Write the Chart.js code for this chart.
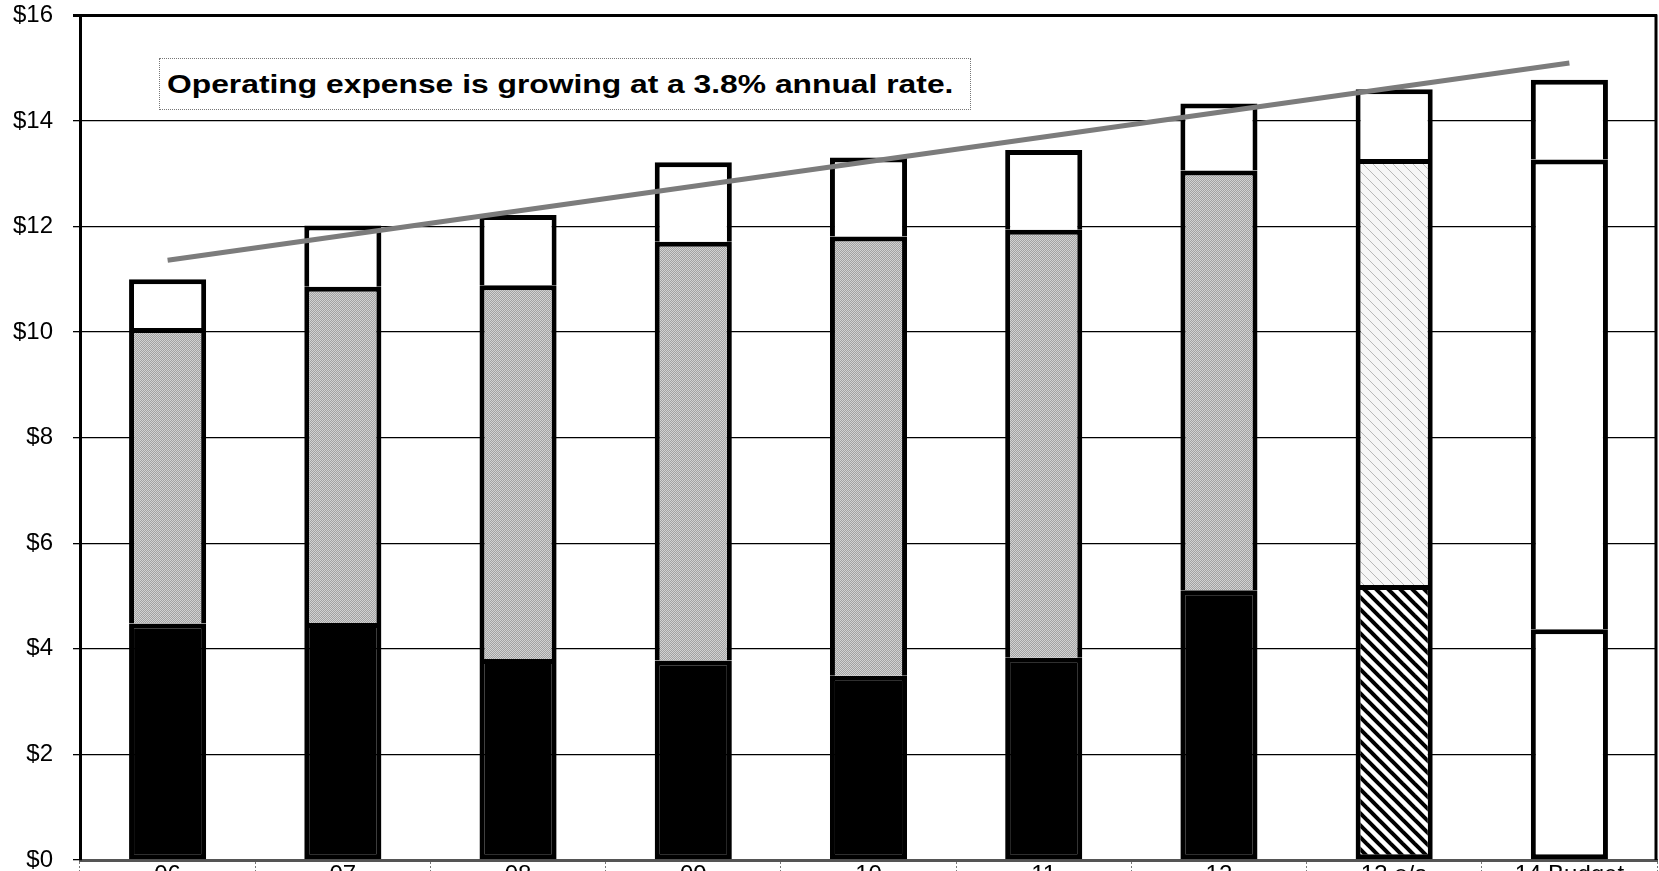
<!DOCTYPE html>
<html>
<head>
<meta charset="utf-8">
<script src="https://cdn.jsdelivr.net/npm/chart.js@4/dist/chart.umd.min.js"></script>
<style>
    html, body { margin: 0; padding: 0; background: #fff; overflow: hidden; }
    #contenedor { position: relative; width: 1659px; height: 871px; overflow: hidden; }
    #lienzo { position: absolute; left: 0; top: -19px; }
    #nota {
        position: absolute; left: 159px; top: 58px; width: 812px; height: 52px;
        border: 1px dotted #777; box-sizing: border-box; background: #fff;
        white-space: nowrap;
    }
    #nota span {
        position: absolute; left: 7px; top: 10px;
        font: bold 26.5px "Liberation Sans", Arial, sans-serif; color: #000;
        transform: scaleX(1.2); transform-origin: left center;
    }
</style>
</head>
<body>
<div id="contenedor">
    <div id="lienzo"><canvas id="grafica" width="1659" height="919"></canvas></div>
    <div id="nota"><span>Operating expense is growing at a 3.8% annual rate.</span></div>
</div>
<script>
// Datos (millones de $)
const categorias = ['06', '07', '08', '09', '10', '11', '12', '13 o/a', '14 Budget'];
const tramoInferior = [4.48, 4.49, 3.81, 3.78, 3.49, 3.83, 5.11, 5.21, 4.37];
const tramoMedio = [5.60, 6.37, 7.08, 7.93, 8.32, 8.11, 7.95, 8.07, 8.90];
const tramoSuperior = [0.92, 1.16, 1.33, 1.51, 1.50, 1.51, 1.27, 1.32, 1.51];
const tendencia = [11.36, null, null, null, null, null, null, null, 15.1];
const ticksY = [0, 2, 4, 6, 8, 10, 12, 14, 16];

// Tramas para las barras
function crearTrama(ancho, alto, dibujar) {
    const c = document.createElement('canvas');
    c.width = ancho;
    c.height = alto;
    const g = c.getContext('2d');
    dibujar(g);
    return g.createPattern(c, 'repeat');
}

const tramaGris = crearTrama(2, 2, g => {
    g.fillStyle = '#d2d2d2'; g.fillRect(0, 0, 2, 2);
    g.fillStyle = '#a2a2a2'; g.fillRect(0, 0, 1, 1); g.fillRect(1, 1, 1, 1);
});

const tramaRayada = crearTrama(12, 12, g => {
    g.fillStyle = '#fff'; g.fillRect(0, 0, 12, 12);
    g.strokeStyle = '#000'; g.lineWidth = 4;
    [-12, 0, 12].forEach(d => {
        g.beginPath(); g.moveTo(d - 2, -2); g.lineTo(d + 14, 14); g.stroke();
    });
});

const tramaClara = crearTrama(10, 10, g => {
    g.fillStyle = '#f6f6f6'; g.fillRect(0, 0, 10, 10);
    g.strokeStyle = '#b8b8b8'; g.lineWidth = 1;
    [-10, 0, 10].forEach(d => {
        g.beginPath(); g.moveTo(d - 2, -2); g.lineTo(d + 12, 12); g.stroke();
    });
});

const colorInferior = categorias.map((c, i) => i < 7 ? '#000' : (i === 7 ? tramaRayada : '#fff'));
const colorMedio = categorias.map((c, i) => i < 7 ? tramaGris : (i === 7 ? tramaClara : '#fff'));

// Borde derecho del área de trazado
const bordeDerecho = {
    id: 'bordeDerecho',
    afterDraw(chart) {
        const { ctx, chartArea } = chart;
        ctx.save();
        ctx.strokeStyle = '#000';
        ctx.lineWidth = 3;
        ctx.beginPath();
        ctx.moveTo(chartArea.right - 1, chartArea.top - 1);
        ctx.lineTo(chartArea.right - 1, chartArea.bottom);
        ctx.stroke();
        ctx.restore();
    }
};

const fuente = { family: '"Liberation Sans", Arial, sans-serif', size: 24 };

new Chart(document.getElementById('grafica').getContext('2d'), {
    data: {
        labels: categorias,
        datasets: [
            {
                type: 'line',
                data: tendencia,
                spanGaps: true,
                borderColor: '#7c7c7c',
                borderWidth: 5,
                pointRadius: 0,
                order: 0
            },
            {
                type: 'bar',
                data: tramoInferior,
                backgroundColor: colorInferior,
                borderColor: '#000',
                borderWidth: 5,
                borderSkipped: false,
                order: 1
            },
            {
                type: 'bar',
                data: tramoMedio,
                backgroundColor: colorMedio,
                borderColor: '#000',
                borderWidth: 5,
                borderSkipped: 'bottom',
                order: 1
            },
            {
                type: 'bar',
                data: tramoSuperior,
                backgroundColor: '#fff',
                borderColor: '#000',
                borderWidth: 5,
                borderSkipped: 'bottom',
                order: 1
            }
        ]
    },
    options: {
        responsive: false,
        animation: false,
        devicePixelRatio: 1,
        layout: { padding: { top: 0, right: 2, left: 0, bottom: 0 } },
        datasets: { bar: { categoryPercentage: 1, barPercentage: 0.44 } },
        plugins: { legend: { display: false }, tooltip: { enabled: false } },
        scales: {
            x: {
                stacked: true,
                afterFit: s => { s.height = 40; },
                grid: {
                    offset: true,
                    drawOnChartArea: false,
                    tickLength: 14,
                    tickColor: '#777',
                    tickBorderDash: [2, 2]
                },
                border: { display: true, color: '#555', width: 3 },
                ticks: { color: '#000', font: fuente, padding: -13, maxRotation: 0, autoSkip: false }
            },
            y: {
                stacked: true,
                min: 0,
                max: 16,
                afterFit: s => { s.width = 80; },
                afterBuildTicks: s => { s.ticks = ticksY.map(v => ({ value: v })); },
                grid: {
                    color: '#000',
                    lineWidth: c => c.tick && c.tick.value === 16 ? 3 : 1.3,
                    tickLength: 7
                },
                border: { display: true, color: '#000', width: 3 },
                ticks: {
                    color: '#000',
                    font: fuente,
                    padding: 20,
                    callback: v => '$' + v
                }
            }
        }
    },
    plugins: [bordeDerecho]
});
</script>
</body>
</html>
